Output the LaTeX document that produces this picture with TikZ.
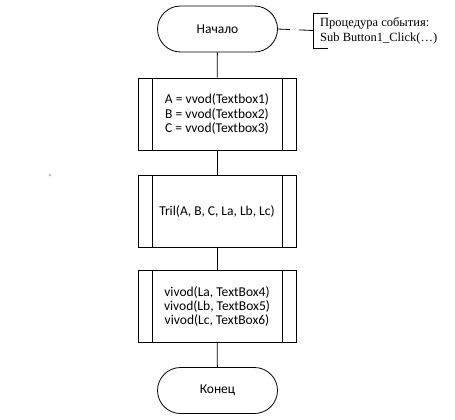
\documentclass[tikz,border=0pt]{standalone}
\usepackage{fontspec}
\setmainfont{Carlito}
\newfontfamily\notefont{Liberation Serif}
\usetikzlibrary{shapes.misc}
\tikzset{
	terminal/.style={rounded rectangle, draw, line width=0.8pt, minimum width=120pt, minimum height=46pt, inner sep=0pt, font=\fontsize{13.5}{14.3}\selectfont},
	procbox/.style={rectangle, draw, line width=0.8pt, minimum width=158pt, minimum height=72pt, inner sep=0pt, align=center, font=\fontsize{13.5}{14.3}\selectfont},
	link/.style={line width=0.8pt},
}
\newcommand{\sidebars}[1]{\draw[link] ([xshift=15pt]#1.north west) -- ([xshift=15pt]#1.south west);
	\draw[link] ([xshift=-14pt]#1.north east) -- ([xshift=-14pt]#1.south east);}
\begin{document}
\begin{tikzpicture}[x=1pt, y=-1pt]
			%%%%% START %%%%%
			\useasboundingbox (0, 0) rectangle (455, 420);
			
			\node[terminal] (start) at (217.5, 29) {Начало};
			
			\node[procbox] (input) at (217, 114) {A = vvod(Textbox1)\\B = vvod(Textbox2)\\C = vvod(Textbox3)};
			\sidebars{input}
			
			\node[procbox] (tril) at (217, 211) {Tril(A, B, C, La, Lb, Lc)};
			\sidebars{tril}
			
			\node[procbox] (output) at (217, 306.5) {vivod(La, TextBox4)\\vivod(Lb, TextBox5)\\vivod(Lc, TextBox6)};
			\sidebars{output}
			
			\node[terminal] (finish) at (217.5, 390.5) {Конец};
			
			\draw[link] (start) -- (input);
			\draw[link] (input) -- (tril);
			\draw[link] (tril) -- (output);
			\draw[link] (output) -- (finish);
			
			% comment to the start
			\node[anchor=west, inner sep=0pt, align=left, font=\notefont\fontsize{12.5}{15}\selectfont] (note) at (320, 30.5) {Процедура события:\\Sub Button1\_Click(\ldots)};
			\coordinate (brk) at (313, 30.5);
			\draw[link, dash pattern=on 12pt off 9pt on 15pt off 1pt] (start.east) -- (brk);
			\draw[link] (328, 13) -- (313, 13) -- (313, 48) -- (328, 48);
			
			\fill[black!25] (50, 175) circle (1.5);
			%%%%% END %%%%%
\end{tikzpicture}
\end{document}
